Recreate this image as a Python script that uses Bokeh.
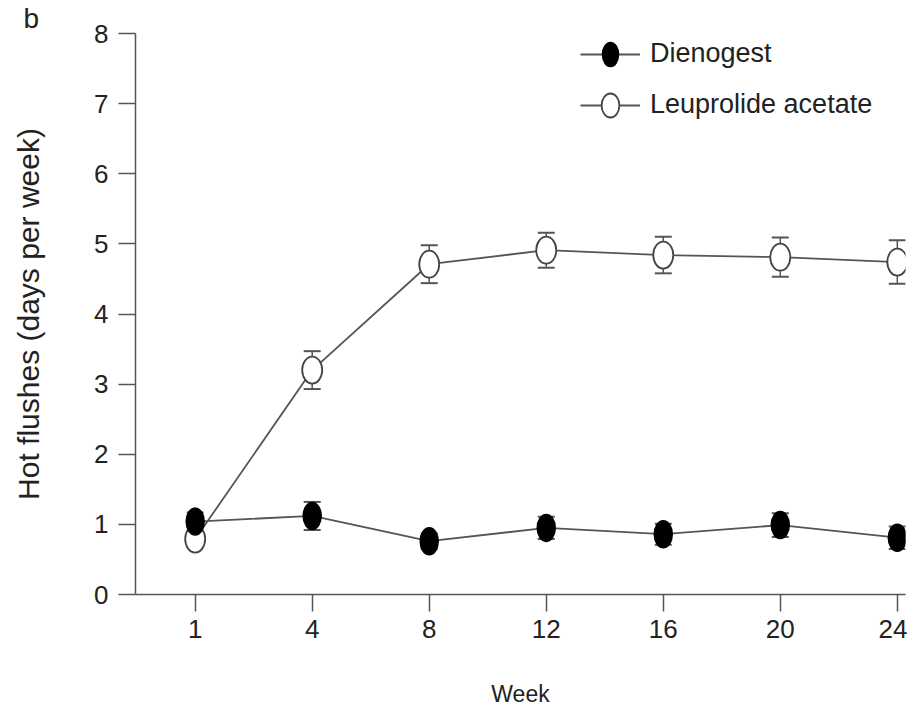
from bokeh.plotting import figure
from bokeh.models import ColumnDataSource, Range1d, Whisker, TeeHead, Title, Legend, LegendItem, FixedTicker
from bokeh.embed import file_html
from bokeh.resources import INLINE

weeks = ["1", "4", "8", "12", "16", "20", "24"]
dienogest = [1.04, 1.12, 0.76, 0.95, 0.86, 0.99, 0.81]
dienogest_err = [0.13, 0.20, 0.11, 0.16, 0.15, 0.17, 0.16]
leuprolide = [0.79, 3.20, 4.71, 4.91, 4.84, 4.81, 4.74]
leuprolide_err = [0.05, 0.27, 0.27, 0.25, 0.26, 0.28, 0.31]

pos = list(range(len(weeks)))
FONT = "Liberation Sans"
LINE = "#555555"
TXT = "#222222"

src_d = ColumnDataSource(dict(x=pos, y=dienogest,
                              lo=[v - e for v, e in zip(dienogest, dienogest_err)],
                              hi=[v + e for v, e in zip(dienogest, dienogest_err)]))
src_l = ColumnDataSource(dict(x=pos, y=leuprolide,
                              lo=[v - e for v, e in zip(leuprolide, leuprolide_err)],
                              hi=[v + e for v, e in zip(leuprolide, leuprolide_err)]))

p = figure(width=907, height=709, output_backend="svg", toolbar_location=None,
           x_range=Range1d(-0.51, 6.07), y_range=Range1d(0, 8),
           min_border_left=135, min_border_right=2, min_border_top=33, min_border_bottom=115)
p.outline_line_color = None
p.grid.visible = False
p.background_fill_color = "white"

# panel letter
p.title = Title(text="b", align="left", offset=-112, standoff=0,
                text_font=FONT, text_font_size="28px", text_font_style="normal",
                text_color=TXT)

# axes
p.xaxis.ticker = FixedTicker(ticks=pos)
p.xaxis.major_label_overrides = {i: w for i, w in enumerate(weeks)}
p.xaxis.minor_tick_line_color = None
p.yaxis.minor_tick_line_color = None
p.yaxis.ticker = FixedTicker(ticks=list(range(0, 9)))
for ax in (p.xaxis[0], p.yaxis[0]):
    ax.axis_line_color = LINE
    ax.axis_line_width = 1.5
    ax.major_tick_line_color = LINE
    ax.major_tick_line_width = 1.5
    ax.major_tick_in = 0
    ax.major_tick_out = 17
    ax.major_label_text_font = FONT
    ax.major_label_text_font_size = "26px"
    ax.major_label_text_color = TXT
    ax.axis_label_text_font = FONT
    ax.axis_label_text_font_style = "normal"
    ax.axis_label_text_color = TXT
p.xaxis.axis_label = "Week"
p.yaxis.axis_label = "Hot flushes (days per week)"
p.xaxis.axis_label_text_font_size = "23px"
p.yaxis.axis_label_text_font_size = "30px"
p.xaxis.major_label_standoff = 8
p.yaxis.major_label_standoff = 10
p.xaxis.axis_label_standoff = 40
p.yaxis.axis_label_standoff = 46

# error bars
for src in (src_l, src_d):
    w = Whisker(source=src, base="x", upper="hi", lower="lo", line_color=LINE, line_width=1.5,
                upper_head=TeeHead(size=17, line_color=LINE, line_width=2),
                lower_head=TeeHead(size=17, line_color=LINE, line_width=2))
    p.add_layout(w)

# Leuprolide (open)
rl_line = p.line("x", "y", source=src_l, line_color=LINE, line_width=1.8)
rl_mark = p.ellipse("x", "y", width=20, height=27, width_units="screen", height_units="screen",
                    source=src_l, fill_color="white", line_color="#444444", line_width=1.8)
# Dienogest (filled)
rd_line = p.line("x", "y", source=src_d, line_color=LINE, line_width=1.8)
rd_mark = p.ellipse("x", "y", width=18, height=27, width_units="screen", height_units="screen",
                    source=src_d, fill_color="black", line_color="black", line_width=1.5)

legend = Legend(items=[LegendItem(label="Dienogest", renderers=[rd_line, rd_mark]),
                       LegendItem(label="Leuprolide acetate", renderers=[rl_line, rl_mark])],
                location=(445, 474), border_line_color=None, background_fill_alpha=0,
                label_text_font=FONT, label_text_font_size="27px", label_text_color=TXT,
                glyph_width=60, glyph_height=30, label_height=30, spacing=20, padding=0, margin=0,
                label_standoff=10)
p.add_layout(legend)

open("out.html", "w").write(file_html(p, INLINE))
